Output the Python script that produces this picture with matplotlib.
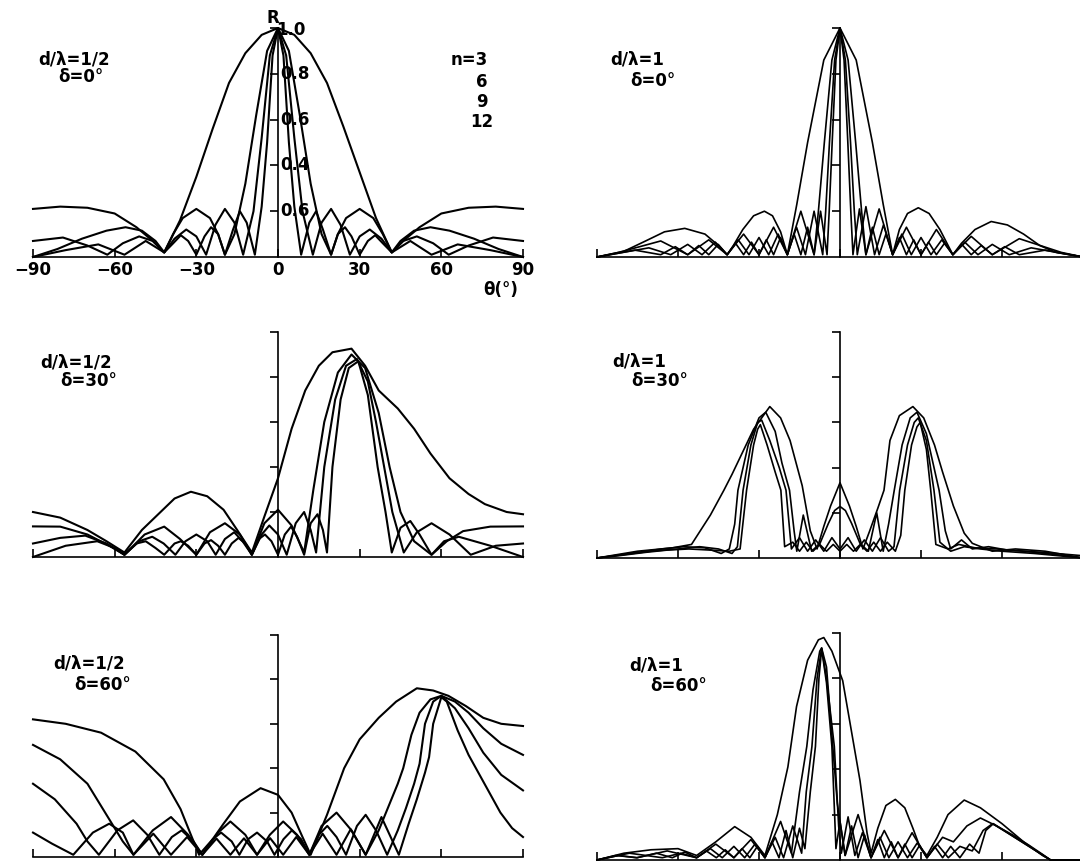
import matplotlib.pyplot as plt

W, H = 1080, 865

# --- d/lambda = 1/2, delta = 0 deg (top left) ---
th_a3 = [-90, -80, -70, -60, -52, -46, -41.8, -36, -30, -24, -18, -12, -6, 0, 6, 12, 18, 24, 30, 36, 41.8, 46, 52, 60, 70, 80, 90]
r_a3 = [0.21, 0.22, 0.215, 0.19, 0.13, 0.07, 0.02, 0.16, 0.35, 0.56, 0.76, 0.89, 0.97, 1.0, 0.97, 0.89, 0.76, 0.57, 0.37, 0.17, 0.02, 0.07, 0.13, 0.19, 0.215, 0.22, 0.21]
th_a6 = [-90, -81, -72, -63, -56, -50, -45, -41.8, -38.5, -35, -30, -25, -22, -19.5, -16, -12, -8, -4, 0, 4, 8, 12, 16, 19.5, 22, 25, 30, 35, 38.5, 41.8, 45, 50, 56, 63, 72, 81, 90]
r_a6 = [0.0, 0.035, 0.08, 0.115, 0.13, 0.115, 0.07, 0.02, 0.1, 0.17, 0.21, 0.17, 0.1, 0.01, 0.1, 0.32, 0.62, 0.9, 1.0, 0.9, 0.62, 0.32, 0.1, 0.01, 0.1, 0.17, 0.21, 0.17, 0.1, 0.02, 0.07, 0.115, 0.13, 0.115, 0.08, 0.035, 0.0]
th_a9 = [-90, -79, -70, -62.7, -57, -51, -46, -41.8, -38, -33.7, -30, -26.4, -23, -19.5, -16, -12.8, -9, -6, -3, 0, 3, 6, 9, 12.8, 16, 19.5, 23, 26.4, 30, 33.7, 38, 41.8, 46, 51, 57, 62.7, 70, 79, 90]
r_a9 = [0.07, 0.085, 0.05, 0.01, 0.06, 0.09, 0.07, 0.02, 0.08, 0.12, 0.09, 0.01, 0.14, 0.21, 0.15, 0.01, 0.2, 0.52, 0.88, 1.0, 0.88, 0.52, 0.2, 0.01, 0.15, 0.21, 0.14, 0.01, 0.09, 0.12, 0.08, 0.02, 0.07, 0.09, 0.06, 0.01, 0.05, 0.085, 0.07]
th_a12 = [-90, -78, -66, -56.4, -48.6, -41.8, -38.5, -35.7, -33, -30, -27, -24.6, -22, -19.5, -16.5, -14, -11.5, -8.5, -6, -4, -2, 0, 2, 4, 6, 8.5, 11.5, 14, 16.5, 19.5, 22, 24.6, 27, 30, 33, 35.7, 38.5, 41.8, 48.6, 56.4, 66, 78, 90]
r_a12 = [0.0, 0.03, 0.055, 0.01, 0.07, 0.02, 0.06, 0.095, 0.07, 0.01, 0.09, 0.13, 0.1, 0.01, 0.12, 0.2, 0.15, 0.01, 0.22, 0.5, 0.88, 1.0, 0.88, 0.5, 0.22, 0.01, 0.15, 0.2, 0.12, 0.01, 0.1, 0.13, 0.09, 0.01, 0.07, 0.095, 0.06, 0.02, 0.07, 0.01, 0.055, 0.03, 0.0]

# --- d/lambda = 1, delta = 0 deg (top right) ---
th_b3 = [-90, -80, -72, -65, -57.5, -50, -45, -41.8, -39.5, -36, -32, -28, -25, -22, -19.5, -16, -12, -6, 0, 6, 12, 16, 19.5, 22, 25, 29, 33, 37, 41.8, 45, 50, 56, 62, 68, 74, 80, 90]
r_b3 = [0.0, 0.025, 0.07, 0.11, 0.125, 0.1, 0.05, 0.01, 0.05, 0.12, 0.18, 0.2, 0.18, 0.11, 0.01, 0.23, 0.5, 0.86, 1.0, 0.86, 0.5, 0.23, 0.01, 0.12, 0.19, 0.215, 0.19, 0.12, 0.01, 0.06, 0.12, 0.155, 0.14, 0.1, 0.05, 0.02, 0.0]
th_b6 = [-90, -82, -66.4, -56.4, -48.6, -41.8, -35.7, -30, -24.6, -19.5, -14.5, -9.6, -8, -5.8, -3, 0, 3, 5.8, 8, 9.6, 14.5, 19.5, 24.6, 30, 35.7, 41.8, 48.6, 56.4, 66.4, 82, 90]
r_b6 = [0.0, 0.02, 0.07, 0.01, 0.075, 0.01, 0.1, 0.01, 0.13, 0.01, 0.2, 0.01, 0.2, 0.5, 0.86, 1.0, 0.86, 0.5, 0.2, 0.01, 0.21, 0.01, 0.13, 0.01, 0.12, 0.01, 0.09, 0.01, 0.08, 0.02, 0.0]
th_b9 = [-90, -70.8, -62.7, -56.4, -51.1, -46.2, -41.8, -37.7, -33.7, -30, -26.4, -22.9, -19.5, -16.1, -12.8, -9.6, -6.4, -5.3, -3.9, -2, 0, 2, 3.9, 5.3, 6.4, 9.6, 12.8, 16.1, 19.5, 22.9, 26.4, 30, 33.7, 37.7, 41.8, 46.2, 51.1, 56.4, 62.7, 70.8, 90]
r_b9 = [0.0, 0.04, 0.01, 0.055, 0.01, 0.065, 0.01, 0.075, 0.01, 0.085, 0.01, 0.1, 0.01, 0.13, 0.01, 0.2, 0.01, 0.2, 0.5, 0.86, 1.0, 0.86, 0.5, 0.2, 0.01, 0.22, 0.01, 0.14, 0.01, 0.1, 0.01, 0.085, 0.01, 0.075, 0.01, 0.065, 0.01, 0.055, 0.01, 0.04, 0.0]
th_b12 = [-90, -76, -66.4, -61, -56.4, -52.3, -48.6, -45.1, -41.8, -38.7, -35.7, -32.8, -30, -27.3, -24.6, -22, -19.5, -17, -14.5, -12, -9.6, -7.2, -4.8, -4, -2.9, -1.5, 0, 1.5, 2.9, 4, 4.8, 7.2, 9.6, 12, 14.5, 17, 19.5, 22, 24.6, 27.3, 30, 32.8, 35.7, 38.7, 41.8, 45.1, 48.6, 52.3, 56.4, 61, 66.4, 76, 90]
r_b12 = [0.0, 0.03, 0.01, 0.045, 0.01, 0.05, 0.01, 0.055, 0.01, 0.06, 0.01, 0.065, 0.01, 0.075, 0.01, 0.085, 0.01, 0.1, 0.01, 0.13, 0.01, 0.2, 0.01, 0.2, 0.5, 0.86, 1.0, 0.86, 0.5, 0.2, 0.01, 0.21, 0.01, 0.13, 0.01, 0.1, 0.01, 0.085, 0.01, 0.075, 0.01, 0.065, 0.01, 0.06, 0.01, 0.055, 0.01, 0.05, 0.01, 0.045, 0.01, 0.03, 0.0]

# --- d/lambda = 1/2, delta = 30 deg (middle left) ---
th_c3 = [-90, -80, -70, -63, -56.4, -50, -44, -38, -32, -26, -20, -15, -9.6, -5, 0, 5, 10, 15, 20, 27, 32, 37, 44, 50, 56, 63, 70, 76, 84, 90]
r_c3 = [0.2, 0.175, 0.12, 0.07, 0.02, 0.12, 0.19, 0.26, 0.29, 0.27, 0.21, 0.12, 0.02, 0.18, 0.35, 0.57, 0.74, 0.85, 0.91, 0.926, 0.85, 0.74, 0.66, 0.57, 0.46, 0.35, 0.28, 0.235, 0.2, 0.19]
th_c6 = [-90, -80, -70, -62, -56.4, -49, -41.8, -36, -30, -25, -19.5, -14, -9.6, -5, 0, 5, 9.6, 13, 17, 22, 27, 32, 37, 41, 45, 50, 56.4, 62, 68, 78, 90]
r_c6 = [0.136, 0.135, 0.1, 0.05, 0.01, 0.1, 0.135, 0.08, 0.01, 0.11, 0.15, 0.1, 0.01, 0.15, 0.21, 0.14, 0.02, 0.3, 0.6, 0.82, 0.9, 0.84, 0.64, 0.4, 0.2, 0.07, 0.01, 0.07, 0.115, 0.135, 0.136]
th_c9 = [-90, -80, -70.8, -63, -56.4, -51, -46.2, -42, -37.7, -34, -30, -26, -22.9, -19.5, -16.1, -13, -9.6, -6, -3.2, 0, 3.2, 6.5, 9.6, 12, 14, 17, 21, 25, 29, 33, 36, 39, 42, 46.2, 51, 56.4, 63, 70.8, 80, 90]
r_c9 = [0.06, 0.085, 0.095, 0.06, 0.01, 0.07, 0.09, 0.06, 0.01, 0.07, 0.1, 0.07, 0.01, 0.08, 0.11, 0.07, 0.01, 0.1, 0.14, 0.1, 0.01, 0.15, 0.2, 0.12, 0.02, 0.4, 0.7, 0.85, 0.88, 0.78, 0.6, 0.4, 0.2, 0.02, 0.11, 0.15, 0.1, 0.01, 0.05, 0.06]
th_c12 = [-90, -78, -66.4, -60, -56.4, -52, -48.6, -45, -41.8, -38, -35.7, -33, -30, -27, -24.6, -22, -19.5, -17, -14.5, -12, -9.6, -7, -4.8, -2.4, 0, 2.5, 4.8, 7, 9.6, 12, 14.5, 16.5, 18, 20, 23, 26, 29.5, 33, 36.6, 39.5, 41.8, 45, 48.6, 52, 56.4, 61, 66.4, 78, 90]
r_c12 = [0.0, 0.05, 0.07, 0.04, 0.01, 0.06, 0.07, 0.04, 0.01, 0.06, 0.07, 0.05, 0.01, 0.06, 0.075, 0.05, 0.01, 0.06, 0.085, 0.06, 0.01, 0.08, 0.1, 0.07, 0.01, 0.1, 0.135, 0.09, 0.01, 0.15, 0.19, 0.12, 0.02, 0.4, 0.7, 0.84, 0.87, 0.72, 0.4, 0.2, 0.02, 0.13, 0.16, 0.1, 0.01, 0.07, 0.09, 0.05, 0.0]

# --- d/lambda = 1, delta = 30 deg (middle right) ---
th_d3 = [-90, -75, -62, -55, -48, -43, -40, -36, -32, -26, -22, -18.5, -14, -11, -8.5, -6, -3.5, 0, 3.5, 6, 8.5, 11, 14, 16.3, 18.5, 22, 27, 31, 35, 38, 42, 46, 49, 56.4, 65, 76, 90]
r_d3 = [0.0, 0.03, 0.045, 0.06, 0.19, 0.3, 0.37, 0.47, 0.57, 0.67, 0.62, 0.52, 0.32, 0.12, 0.04, 0.14, 0.23, 0.333, 0.23, 0.14, 0.04, 0.12, 0.22, 0.3, 0.52, 0.63, 0.67, 0.62, 0.5, 0.38, 0.23, 0.11, 0.065, 0.03, 0.04, 0.03, 0.0]
th_d6 = [-90, -78, -66, -58, -50, -44, -41, -39, -37.8, -34, -30, -27.5, -24, -21.5, -18.7, -17, -16, -13.6, -10.5, -7.4, -4.3, -2, 0, 2, 4.3, 7.4, 10.5, 13.6, 16, 18, 20.1, 23, 26, 28.5, 32, 36.7, 39, 41, 45, 49, 55, 62, 75, 90]
r_d6 = [0.0, 0.02, 0.04, 0.05, 0.045, 0.02, 0.04, 0.15, 0.3, 0.5, 0.62, 0.645, 0.56, 0.42, 0.3, 0.12, 0.03, 0.19, 0.03, 0.065, 0.153, 0.21, 0.228, 0.21, 0.153, 0.065, 0.03, 0.2, 0.03, 0.15, 0.3, 0.5, 0.62, 0.645, 0.55, 0.3, 0.12, 0.04, 0.08, 0.04, 0.05, 0.035, 0.025, 0.01]
th_d9 = [-90, -80, -70, -60, -52, -45, -40, -38, -35.9, -33, -30.5, -29, -26, -22.5, -20, -18, -15, -12, -9, -6, -3, 0, 3, 6, 9, 12, 15, 18, 20, 22.1, 25, 27.5, 29, 32, 34.8, 37, 41, 46, 52, 60, 72, 90]
r_d9 = [0.0, 0.015, 0.03, 0.04, 0.05, 0.04, 0.02, 0.05, 0.3, 0.5, 0.6, 0.61, 0.52, 0.4, 0.3, 0.04, 0.09, 0.03, 0.08, 0.03, 0.09, 0.04, 0.09, 0.03, 0.08, 0.03, 0.09, 0.03, 0.05, 0.3, 0.5, 0.6, 0.62, 0.52, 0.3, 0.07, 0.03, 0.05, 0.04, 0.03, 0.02, 0.0]
th_d12 = [-90, -82, -72, -64, -56, -48, -41, -37, -34.6, -32, -30.5, -29.5, -27, -24, -21.9, -20.5, -17.5, -15, -12.5, -10, -7.5, -5, -2.5, 0, 2.5, 5, 7.5, 10, 12.5, 15, 17.5, 20.5, 22.5, 24, 26.5, 28.5, 29.7, 32, 33.6, 35.5, 40, 44, 50, 58, 68, 80, 90]
r_d12 = [0.0, 0.01, 0.025, 0.035, 0.04, 0.035, 0.03, 0.04, 0.3, 0.5, 0.57, 0.59, 0.5, 0.38, 0.3, 0.05, 0.07, 0.03, 0.07, 0.03, 0.06, 0.03, 0.06, 0.03, 0.06, 0.03, 0.06, 0.03, 0.07, 0.03, 0.07, 0.03, 0.1, 0.3, 0.5, 0.58, 0.6, 0.48, 0.3, 0.06, 0.04, 0.06, 0.045, 0.04, 0.03, 0.015, 0.0]

# --- d/lambda = 1/2, delta = 60 deg (bottom left) ---
th_e3 = [-90, -78, -65, -52.4, -42, -35.8, -32, -29, -24, -20, -14, -6.4, 0, 5, 9, 12, 18, 24.3, 30, 37, 43.4, 51, 57, 62.6, 69, 75.4, 82, 90]
r_e3 = [0.62, 0.6, 0.56, 0.475, 0.35, 0.216, 0.1, 0.01, 0.08, 0.15, 0.25, 0.31, 0.28, 0.2, 0.09, 0.01, 0.19, 0.4, 0.53, 0.627, 0.7, 0.76, 0.75, 0.726, 0.68, 0.627, 0.6, 0.59]
th_e6 = [-90, -80, -70, -62, -57, -53.1, -46, -39.3, -33, -27.8, -22, -17.5, -12, -7.7, -3, 1.9, 7, 11.5, 16, 21.5, 27, 32.2, 37, 41, 44, 46, 49, 52, 56, 60, 65, 70, 75.4, 82, 90]
r_e6 = [0.505, 0.44, 0.33, 0.17, 0.07, 0.01, 0.12, 0.18, 0.1, 0.01, 0.11, 0.16, 0.1, 0.01, 0.1, 0.16, 0.1, 0.01, 0.14, 0.2, 0.12, 0.01, 0.12, 0.24, 0.33, 0.4, 0.55, 0.65, 0.71, 0.726, 0.7, 0.65, 0.58, 0.51, 0.46]
th_e9 = [-90, -82, -74, -70, -65.8, -59, -53.2, -48, -43.6, -39, -35.4, -31, -27.8, -24, -20.9, -17, -14.2, -11, -7.7, -4, -1.3, 2, 5.1, 8.5, 11.5, 15, 18.1, 21.5, 25, 29, 32.2, 36, 40.1, 44, 47, 50, 52, 54, 57, 60, 65, 70, 75.4, 82, 90]
r_e9 = [0.33, 0.26, 0.15, 0.07, 0.01, 0.12, 0.165, 0.1, 0.01, 0.09, 0.12, 0.07, 0.01, 0.08, 0.11, 0.07, 0.01, 0.08, 0.11, 0.07, 0.01, 0.08, 0.12, 0.08, 0.01, 0.1, 0.14, 0.09, 0.01, 0.14, 0.19, 0.12, 0.01, 0.12, 0.22, 0.33, 0.42, 0.6, 0.7, 0.726, 0.67, 0.58, 0.47, 0.37, 0.3]
th_e12 = [-90, -83, -75.2, -68, -62, -57, -53.1, -45.8, -39.3, -33.4, -27.8, -22.6, -17.5, -12.5, -7.7, -2.9, 1.9, 6.7, 11.5, 16.4, 21.5, 26.7, 32.2, 38, 44.4, 48, 51, 54, 55.5, 57, 60, 62, 66, 70, 75.4, 81.7, 86, 90]
r_e12 = [0.11, 0.06, 0.01, 0.11, 0.15, 0.11, 0.01, 0.105, 0.01, 0.09, 0.01, 0.083, 0.01, 0.084, 0.01, 0.085, 0.01, 0.09, 0.01, 0.105, 0.01, 0.125, 0.01, 0.18, 0.01, 0.15, 0.26, 0.38, 0.45, 0.6, 0.72, 0.7, 0.57, 0.46, 0.34, 0.2, 0.13, 0.09]

# --- d/lambda = 1, delta = 60 deg (bottom right) ---
th_f3 = [-90, -80, -70, -60, -53.1, -46, -39, -33, -27.8, -23.2, -19.3, -16.1, -12, -8, -6, -3, 1, 4.2, 7.4, 10, 11.5, 14, 17, 20.5, 24, 27, 29.5, 32.2, 36, 40, 46, 52, 60, 68, 75, 78, 90]
r_f3 = [0.0, 0.03, 0.045, 0.05, 0.02, 0.08, 0.147, 0.1, 0.02, 0.2, 0.41, 0.676, 0.88, 0.97, 0.98, 0.92, 0.79, 0.57, 0.35, 0.12, 0.03, 0.14, 0.24, 0.267, 0.23, 0.14, 0.06, 0.02, 0.1, 0.2, 0.264, 0.23, 0.16, 0.08, 0.02, 0.0, 0.0]
th_f6 = [-90, -83, -75.2, -64, -53.1, -46, -39.3, -33, -27.8, -22, -18, -15, -12.3, -10, -7.5, -6.8, -5, -3, -1, 1.9, 6.7, 11.5, 16.4, 21.5, 26.7, 32.2, 38, 42, 47, 52, 58, 64, 70, 75, 78, 90]
r_f6 = [0.0, 0.02, 0.01, 0.04, 0.01, 0.07, 0.01, 0.09, 0.01, 0.17, 0.03, 0.3, 0.5, 0.75, 0.92, 0.934, 0.85, 0.55, 0.25, 0.02, 0.2, 0.01, 0.13, 0.01, 0.12, 0.01, 0.1, 0.08, 0.15, 0.185, 0.15, 0.11, 0.065, 0.025, 0.0, 0.0]
th_f9 = [-90, -78, -65.8, -59, -53.1, -48, -43.6, -39.3, -35.3, -31.5, -27.8, -24, -20.9, -17.5, -14.2, -12.5, -10.4, -8.5, -6.8, -5, -2.1, -0.5, 0.5, 3, 5.5, 8.3, 11.5, 14.8, 18.1, 21.5, 25, 28.6, 32.2, 36, 40.1, 44.4, 49, 53, 56.5, 62, 70, 78, 90]
r_f9 = [0.0, 0.03, 0.01, 0.03, 0.01, 0.05, 0.01, 0.06, 0.01, 0.07, 0.01, 0.1, 0.01, 0.15, 0.03, 0.3, 0.5, 0.8, 0.934, 0.8, 0.5, 0.15, 0.03, 0.19, 0.02, 0.12, 0.01, 0.1, 0.01, 0.08, 0.01, 0.075, 0.01, 0.07, 0.01, 0.06, 0.04, 0.13, 0.16, 0.12, 0.06, 0.0, 0.0]
th_f12 = [-90, -82, -75.2, -68, -62.1, -57.5, -53.1, -49.5, -45.8, -42.5, -39.3, -36.3, -33.4, -30.6, -27.8, -25.2, -22.6, -20, -17.5, -15, -13, -11, -9.1, -7.8, -6.8, -5, -3, -1.5, 0, 1.9, 4.3, 6.7, 9.1, 11.5, 14, 16.4, 19, 21.5, 24, 26.7, 29.5, 32.2, 35, 38, 41, 44.4, 48, 51.5, 54, 56.8, 62, 70, 78, 90]
r_f12 = [0.0, 0.02, 0.01, 0.03, 0.01, 0.035, 0.01, 0.04, 0.01, 0.045, 0.01, 0.05, 0.01, 0.06, 0.01, 0.08, 0.01, 0.13, 0.01, 0.14, 0.05, 0.3, 0.5, 0.8, 0.93, 0.78, 0.5, 0.05, 0.17, 0.02, 0.15, 0.01, 0.11, 0.01, 0.09, 0.01, 0.08, 0.01, 0.07, 0.01, 0.065, 0.01, 0.06, 0.01, 0.06, 0.01, 0.07, 0.03, 0.13, 0.16, 0.12, 0.06, 0.0, 0.0]

x_ticks = [-90, -60, -30, 0, 30, 60, 90]
x_labels = ['−90', '−60', '−30', '0', '30', '60', '90']
n_values = ['n=3', '6', '9', '12']

# pixel boxes: (left, top(R=1), right, bottom(R=0)), label positions
panels = [
    dict(box=(33, 28, 523, 257), lw=1.5, txt=('d/λ=1/2', 'δ=0°'), pos=(38, 60, 58, 77),
         curves=[(th_a3, r_a3), (th_a6, r_a6), (th_a9, r_a9), (th_a12, r_a12)]),
    dict(box=(597, 28, 1083, 257), lw=1.2, txt=('d/λ=1', 'δ=0°'), pos=(610, 60, 630, 81),
         curves=[(th_b3, r_b3), (th_b6, r_b6), (th_b9, r_b9), (th_b12, r_b12)]),
    dict(box=(33, 332, 523, 557), lw=1.5, txt=('d/λ=1/2', 'δ=30°'), pos=(40, 363, 60, 381),
         curves=[(th_c3, r_c3), (th_c6, r_c6), (th_c9, r_c9), (th_c12, r_c12)]),
    dict(box=(597, 332, 1083, 558), lw=1.2, txt=('d/λ=1', 'δ=30°'), pos=(612, 362, 631, 381),
         curves=[(th_d3, r_d3), (th_d6, r_d6), (th_d9, r_d9), (th_d12, r_d12)]),
    dict(box=(33, 635, 523, 857), lw=1.5, txt=('d/λ=1/2', 'δ=60°'), pos=(53, 663, 74, 685),
         curves=[(th_e3, r_e3), (th_e6, r_e6), (th_e9, r_e9), (th_e12, r_e12)]),
    dict(box=(597, 633, 1083, 860), lw=1.2, txt=('d/λ=1', 'δ=60°'), pos=(629, 665, 650, 686),
         curves=[(th_f3, r_f3), (th_f6, r_f6), (th_f9, r_f9), (th_f12, r_f12)]),
]

fig = plt.figure(figsize=(W / 100, H / 100), dpi=100)
fs = 12
fw = 'bold'

for i, p in enumerate(panels):
    x0, yt, x1, yb = p['box']
    ax = fig.add_axes([x0 / W, 1 - yb / H, (x1 - x0) / W, (yb - yt) / H])
    ax.patch.set_visible(False)
    for th, r in p['curves']:
        ax.plot(th, r, color='black', lw=p['lw'], clip_on=False, solid_joinstyle='round')
    ax.set_xlim(-90, 90)
    ax.set_ylim(0, 1)
    ax.spines['top'].set_visible(False)
    ax.spines['right'].set_visible(False)
    ax.spines['left'].set_position(('data', 0))
    for s in ('left', 'bottom'):
        ax.spines[s].set_linewidth(1.2)
    ax.set_xticks(x_ticks)
    ax.set_yticks([0.2, 0.4, 0.6, 0.8, 1.0])
    ax.tick_params(axis='x', direction='in', length=6, width=1.2, pad=3, labelsize=fs)
    ax.tick_params(axis='y', direction='out', length=6, width=1.2)
    ax.set_yticklabels([])
    if i == 0:
        ax.set_xticklabels(x_labels, fontweight=fw)
        for v, s in [(0.8, '0.8'), (0.6, '0.6'), (0.4, '0.4'), (0.2, '0.6')]:
            ax.text(1.0, v, s, ha='left', va='center', fontsize=fs, fontweight=fw)
        ax.text(-0.6, 0.99, '1.0', ha='left', va='center', fontsize=fs, fontweight=fw)
        ax.text(-2.0, 1.045, 'R', ha='center', va='center', fontsize=fs, fontweight=fw)
    else:
        ax.set_xticklabels([])
    t1, t2 = p['txt']
    lx1, ly1, lx2, ly2 = p['pos']
    fig.text(lx1 / W, 1 - ly1 / H, t1, ha='left', va='center', fontsize=fs, fontweight=fw)
    fig.text(lx2 / W, 1 - ly2 / H, t2, ha='left', va='center', fontsize=fs, fontweight=fw)

# n legend, top left panel
fig.text(488 / W, 1 - 60 / H, n_values[0], ha='right', va='center', fontsize=fs, fontweight=fw)
for k, s in enumerate(n_values[1:]):
    fig.text(482 / W, 1 - (82 + 20 * k) / H, s, ha='center', va='center', fontsize=fs, fontweight=fw)
fig.text(501 / W, 1 - 290 / H, 'θ(°)', ha='center', va='center', fontsize=fs, fontweight=fw)

fig.savefig('out.png', dpi=100)
